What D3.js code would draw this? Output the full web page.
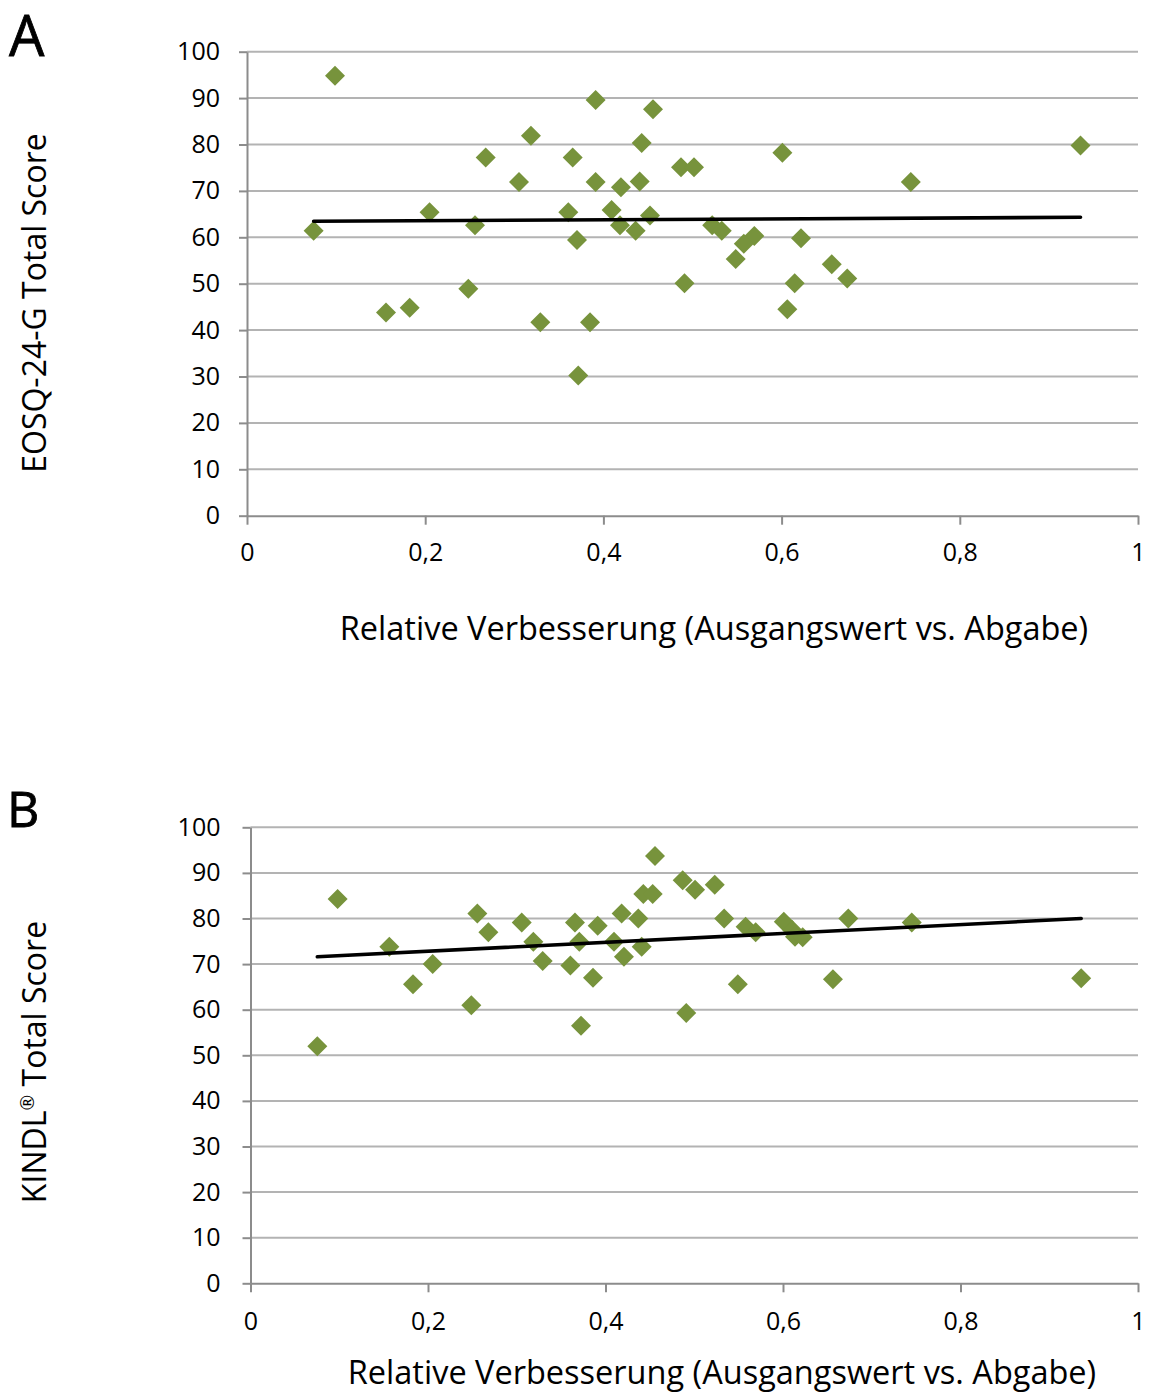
<!DOCTYPE html>
<html><head><meta charset="utf-8">
<script src="https://cdn.jsdelivr.net/npm/d3@7/dist/d3.min.js"></script>
<style>body{margin:0;background:#fff}svg{display:block}text{font-family:"Open Sans",sans-serif;fill:#000}</style>
</head><body>
<script>
// Panel A: EOSQ-24-G
const xA = [0.0988,0.0748,0.156,0.1826,0.2049,0.2484,0.2559,0.2679,0.3053,0.3187,0.3292,0.3606,0.3655,0.3704,0.3718,0.385,0.3913,0.3913,0.4092,0.4197,0.4186,0.4362,0.4407,0.443,0.4523,0.4557,0.4871,0.5017,0.491,0.5221,0.5328,0.5694,0.5576,0.5485,0.6009,0.6064,0.6147,0.6218,0.6563,0.6737,0.745,0.9355];
const yA = [94.8,61.4,43.8,44.8,65.4,48.9,62.6,77.2,71.9,81.9,41.7,65.4,77.2,59.4,30.2,41.7,89.6,71.9,65.9,70.8,62.6,61.4,72.0,80.3,64.7,87.6,75.1,75.1,50.1,62.6,61.4,60.3,58.6,55.3,78.2,44.5,50.1,59.8,54.2,51.1,71.9,79.8];
const trendA = [63.38, 0.99]; // intercept, slope
// Panel B: KINDL
const xB = [0.0753,0.0982,0.1564,0.1831,0.2053,0.2488,0.2556,0.268,0.3056,0.3187,0.3292,0.3604,0.3656,0.3705,0.3724,0.3859,0.3912,0.4096,0.4182,0.4208,0.437,0.4408,0.4426,0.4532,0.4558,0.487,0.5009,0.491,0.5231,0.5337,0.5491,0.5579,0.5692,0.6009,0.6104,0.6135,0.6222,0.6563,0.6736,0.7451,0.936];
const yB = [52.0,84.3,73.8,65.6,70.0,61.0,81.1,77.0,79.1,74.9,70.7,69.7,79.1,74.9,56.5,67.0,78.4,74.9,81.1,71.6,80.0,73.8,85.4,85.4,93.7,88.4,86.3,59.3,87.4,80.0,65.6,78.2,77.0,79.3,77.5,76.0,75.9,66.7,80.0,79.1,66.9];
const trendB = [70.87, 9.75];
const xTicks = [0,0.2,0.4,0.6,0.8,1];
const xTickLabels = ["0","0,2","0,4","0,6","0,8","1"];
const yTicks = [0,10,20,30,40,50,60,70,80,90,100];
const xTitle = "Relative Verbesserung (Ausgangswert vs. Abgabe)";

const svg = d3.select("body").append("svg").attr("width",1153).attr("height",1394);

function panel(cfg){
  const g = svg.append("g");
  const x = d3.scaleLinear().domain([0,1]).range([cfg.x0,cfg.x1]);
  const y = d3.scaleLinear().domain([0,100]).range([cfg.y0,cfg.y1]);
  g.selectAll(".grid").data(yTicks.filter(v=>v>0)).enter().append("line")
    .attr("x1",cfg.x0).attr("x2",cfg.x1).attr("y1",d=>y(d)).attr("y2",d=>y(d))
    .attr("stroke","#b3b3b3").attr("stroke-width",2);
  const ya = g.append("g").attr("transform",`translate(${cfg.x0},0)`)
    .call(d3.axisLeft(y).tickValues(yTicks).tickSize(8).tickSizeOuter(0).tickPadding(cfg.yPad));
  ya.select(".domain").attr("stroke","#8c8c8c").attr("stroke-width",2);
  ya.selectAll(".tick line").attr("stroke","#8c8c8c").attr("stroke-width",2);
  ya.selectAll(".tick text").attr("font-size",25).attr("font-family","Open Sans").attr("fill","#000");
  const xa = g.append("g").attr("transform",`translate(0,${cfg.y0})`)
    .call(d3.axisBottom(x).tickValues(xTicks).tickFormat((d,i)=>xTickLabels[i]).tickSize(9).tickSizeOuter(0).tickPadding(cfg.xPad));
  xa.select(".domain").attr("stroke","#8c8c8c").attr("stroke-width",2);
  xa.selectAll(".tick line").attr("stroke","#8c8c8c").attr("stroke-width",2);
  xa.selectAll(".tick text").attr("font-size",25).attr("font-family","Open Sans").attr("fill","#000");
  const pts = cfg.xs.map((v,i)=>({x:v,y:cfg.ys[i]}));
  const sym = d3.symbol().type(d3.symbolSquare).size(200);
  g.selectAll(".pt").data(pts).enter().append("path")
    .attr("d",sym).attr("fill","#77933c")
    .attr("transform",d=>`translate(${x(d.x)},${y(d.y)}) rotate(45)`);
  const ext = d3.extent(cfg.xs);
  const tr = ext.map(v=>({x:v,y:cfg.trend[0]+cfg.trend[1]*v}));
  g.append("path").datum(tr)
    .attr("d",d3.line().x(d=>x(d.x)).y(d=>y(d.y)))
    .attr("stroke","#000").attr("stroke-width",3.6).attr("fill","none").attr("stroke-linecap","round");
  g.append("text").attr("x",cfg.xtX).attr("y",cfg.xtY).attr("text-anchor","middle")
    .attr("font-size",32.5).text(xTitle);
  const yt = g.append("text").attr("transform",`translate(${cfg.ytX},${cfg.ytY}) rotate(-90)`)
    .attr("text-anchor","middle").attr("font-size",32);
  cfg.yTitle.forEach(p=>{
    const t = yt.append("tspan").text(p.t);
    if(p.sup) t.attr("font-size",19).attr("dy",-12);
    else if(p.after) t.attr("dy",12);
  });
  g.append("text").attr("x",cfg.lx).attr("y",cfg.ly).attr("font-size",cfg.ls)
    .attr("font-family","Liberation Sans").attr("stroke","#000").attr("stroke-width",0.8).text(cfg.label);
}

panel({x0:247,x1:1138,y0:515.7,y1:51.7,xs:xA,ys:yA,trend:trendA,yPad:19,xPad:19,
  xtX:714,xtY:640,ytX:46,ytY:303,yTitle:[{t:"EOSQ-24-G Total Score"}],label:"A",lx:9,ly:56,ls:56});
panel({x0:250.5,x1:1138,y0:1283.3,y1:827.3,xs:xB,ys:yB,trend:trendB,yPad:22,xPad:19.5,
  xtX:722,xtY:1384,ytX:46,ytY:1062,yTitle:[{t:"KINDL"},{t:"®",sup:true},{t:" Total Score",after:true}],label:"B",lx:7,ly:827,ls:50});
</script>
</body></html>
